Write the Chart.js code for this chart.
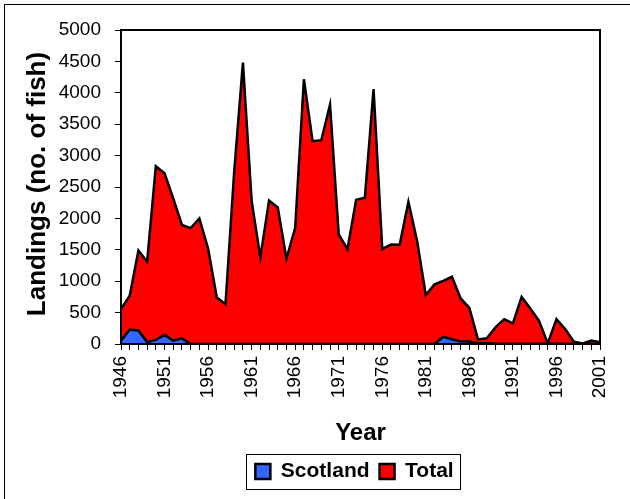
<!DOCTYPE html>
<html>
<head>
<meta charset="utf-8">
<script src="https://cdn.jsdelivr.net/npm/chart.js@4/dist/chart.umd.min.js"></script>
<style>
html,body{margin:0;padding:0;background:#fff;}
#wrap{width:630px;height:499px;position:relative;}
</style>
</head>
<body>
<div id="wrap"><canvas id="c" width="630" height="499"></canvas></div>
<script>
const years = [];
for (let y = 1946; y <= 2001; y++) years.push(String(y));

const scotland = [50,230,215,30,65,145,55,90,0,0,
  0,0,0,0,0,0,0,0,0,0,
  0,0,0,0,0,0,0,0,0,0,
  0,0,0,0,0,0,0,115,75,40,
  40,10,10,5,5,5,5,5,5,5,
  5,5,5,5,5,5];

const total = [555,770,1490,1310,2830,2720,2320,1895,1845,2000,
  1520,740,635,2750,4480,2280,1380,2285,2175,1360,
  1850,4215,3230,3245,3810,1745,1510,2295,2330,4060,
  1510,1585,1580,2265,1640,780,950,1005,1070,725,
  575,70,90,265,395,330,750,565,370,10,
  395,240,35,10,55,30];

const yTicks = [0,500,1000,1500,2000,2500,3000,3500,4000,4500,5000];
const yTitle = 'Landings (no. of fish)';

const FONT = "'Liberation Sans', Arial, sans-serif";
const LEGEND_SHIFT = 52;

const framePlugin = {
  id: 'frame',
  beforeDraw(chart) {
    const ctx = chart.ctx;
    ctx.save();
    ctx.fillStyle = '#fff';
    ctx.fillRect(0, 0, chart.width, chart.height);
    ctx.strokeStyle = '#000';
    ctx.lineWidth = 1;
    ctx.strokeRect(4.5, 4.5, 700, 700);
    ctx.restore();
    const lg = chart.legend;
    if (lg && !lg._shifted) {
      lg.left += LEGEND_SHIFT; lg.right += LEGEND_SHIFT;
      (lg.legendHitBoxes || []).forEach(h => { h.left += LEGEND_SHIFT; });
      lg._shifted = true;
    }
  },
  afterDraw(chart) {
    const ctx = chart.ctx;
    const a = chart.chartArea;
    ctx.save();
    ctx.strokeStyle = '#000';
    ctx.lineWidth = 2;
    ctx.strokeRect(a.left, a.top, a.right - a.left, a.bottom - a.top);
    // y axis title
    ctx.save();
    ctx.translate(38, 184);
    ctx.rotate(-Math.PI / 2);
    ctx.fillStyle = '#000';
    ctx.font = "bold 26px " + FONT;
    ctx.textAlign = 'center';
    ctx.textBaseline = 'middle';
    ctx.fillText(yTitle, 0, 0);
    ctx.restore();
    const lg = chart.legend;
    if (lg && lg.legendHitBoxes && lg.legendHitBoxes.length) {
      let l = Infinity, r = -Infinity, t = Infinity, b = -Infinity;
      lg.legendHitBoxes.forEach(h => {
        l = Math.min(l, h.left); r = Math.max(r, h.left + h.width);
        t = Math.min(t, h.top); b = Math.max(b, h.top + h.height);
      });
      ctx.lineWidth = 1;
      ctx.strokeStyle = '#000';
      ctx.strokeRect(Math.round(l - 9) + 0.5, Math.round(t - 7) + 0.5, Math.round(r - l + 16), Math.round(b - t + 14));
    }
    ctx.restore();
  }
};

new Chart(document.getElementById('c'), {
  type: 'line',
  data: {
    labels: years,
    datasets: [
      { label: 'Scotland', data: scotland, backgroundColor: '#3366FF', borderColor: '#000', borderWidth: 2.5, fill: 'origin', pointRadius: 0, tension: 0 },
      { label: 'Total', data: total, backgroundColor: '#FF0000', borderColor: '#000', borderWidth: 2.5, fill: 'origin', pointRadius: 0, tension: 0 }
    ]
  },
  options: {
    responsive: false,
    animation: false,
    devicePixelRatio: 1,
    layout: { padding: { left: 5, right: 30, top: 30, bottom: 7 } },
    plugins: {
      tooltip: { enabled: false },
      legend: {
        position: 'bottom',
        labels: {
          color: '#000',
          font: { family: FONT, size: 21, weight: 'bold' },
          boxWidth: 15, boxHeight: 15, padding: 10
        }
      }
    },
    scales: {
      x: {
        type: 'category',
        offset: false,
        afterFit(s) { s.height = 107; },
        ticks: {
          autoSkip: false, maxRotation: 90, minRotation: 90,
          color: '#000', padding: 6,
          font: { family: FONT, size: 19 },
          callback(v, i) { return (Number(years[i]) - 1946) % 5 === 0 ? years[i] : ''; }
        },
        grid: { display: true, drawOnChartArea: false, drawTicks: true, tickLength: 6, color: '#000', tickColor: '#000', tickWidth: 1 },
        border: { display: true, color: '#000', width: 2 },
        title: { display: true, text: 'Year', color: '#000', font: { family: FONT, size: 24, weight: 'bold' }, padding: { top: 9, bottom: 3 } }
      },
      y: {
        min: 0, max: 5000,
        afterFit(s) { s.width = 116; },
        afterBuildTicks(s) { s.ticks = yTicks.map(v => ({ value: v })); },
        ticks: { color: '#000', padding: 14, font: { family: FONT, size: 19 }, callback(v) { return String(v); } },
        grid: { display: true, drawOnChartArea: false, drawTicks: true, tickLength: 6, color: '#000', tickColor: '#000' },
        border: { display: true, color: '#000', width: 2 },
        title: { display: false }
      }
    }
  },
  plugins: [framePlugin]
});
</script>
</body>
</html>
